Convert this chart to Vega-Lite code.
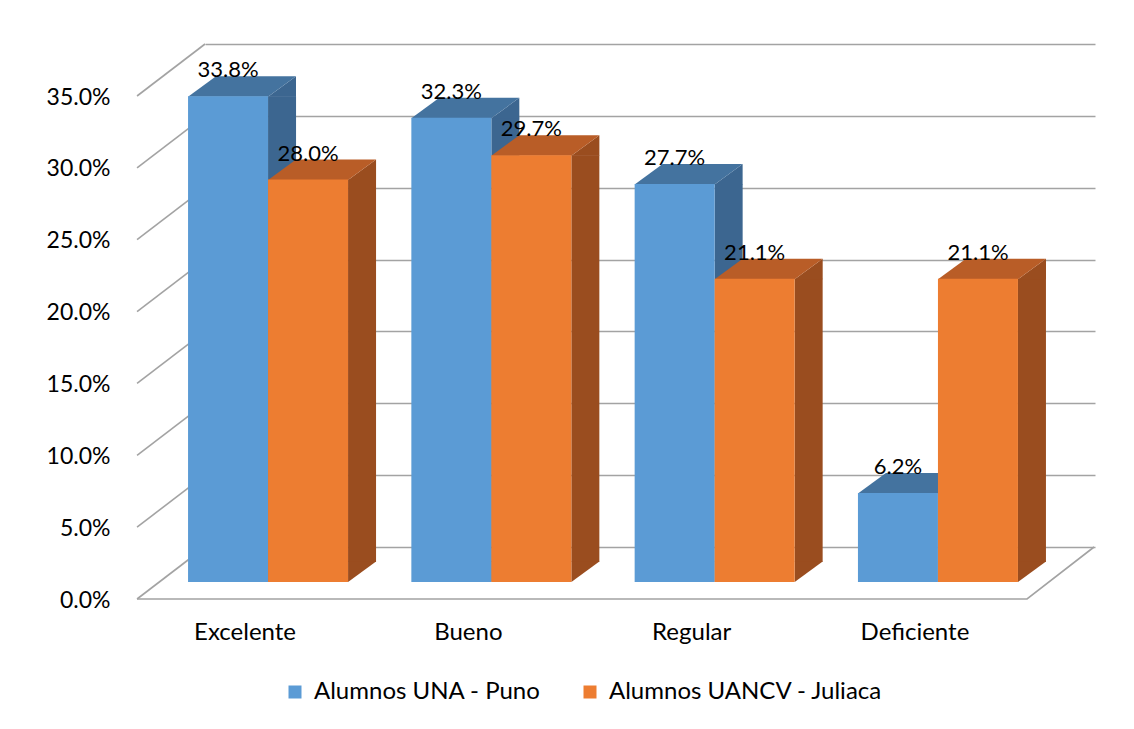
{
  "$schema": "https://vega.github.io/schema/vega-lite/v6.json",
  "autosize": {"type": "none"},
  "width": 890,
  "height": 503,
  "padding": {"left": 205, "top": 44, "right": 39, "bottom": 182},
  "background": "white",
  "datasets": {
    "bars": [
      {"cat": "Excelente", "serie": "Alumnos UNA - Puno", "v": 0.338},
      {"cat": "Excelente", "serie": "Alumnos UANCV - Juliaca", "v": 0.280},
      {"cat": "Bueno", "serie": "Alumnos UNA - Puno", "v": 0.323},
      {"cat": "Bueno", "serie": "Alumnos UANCV - Juliaca", "v": 0.297},
      {"cat": "Regular", "serie": "Alumnos UNA - Puno", "v": 0.277},
      {"cat": "Regular", "serie": "Alumnos UANCV - Juliaca", "v": 0.211},
      {"cat": "Deficiente", "serie": "Alumnos UNA - Puno", "v": 0.062},
      {"cat": "Deficiente", "serie": "Alumnos UANCV - Juliaca", "v": 0.211}
    ],
    "ticks": [{"t": 0}, {"t": 0.05}, {"t": 0.1}, {"t": 0.15}, {"t": 0.2}, {"t": 0.25}, {"t": 0.3}, {"t": 0.35}]
  },
  "config": {
    "view": {"stroke": null},
    "font": "Lato",
    "axisY": {"grid": true, "gridColor": "#a3a3a3", "gridWidth": 1.6, "domain": false, "ticks": false, "labelPadding": 95, "labelOffset": 53, "labelFontSize": 23, "labelColor": "#000000", "labelFont": "Lato"},
    "axisX": {"grid": false, "domain": false, "ticks": false, "labelPadding": 73, "labelOffset": -70, "labelFontSize": 24, "labelColor": "#000000", "labelFont": "Lato", "labelAngle": 0}
  },
  "resolve": {"scale": {"color": "independent"}},
  "layer": [
    {
      "data": {"name": "ticks"},
      "mark": {"type": "point", "shape": "M -110 0 L -178 52", "size": 4, "filled": false, "stroke": "#a3a3a3", "strokeWidth": 1.6, "opacity": 1},
      "encoding": {
        "x": {"datum": "Excelente", "type": "nominal", "scale": {"type": "band", "domain": ["Excelente", "Bueno", "Regular", "Deficiente"], "paddingInner": 0.2832, "paddingOuter": 0.1344}, "axis": {"title": null}},
        "y": {"field": "t", "type": "quantitative", "scale": {"domain": [0, 0.35], "nice": false}, "axis": {"title": null, "format": ".1%", "values": [0, 0.05, 0.1, 0.15, 0.2, 0.25, 0.3, 0.35]}}
      }
    },
    {
      "data": {"name": "ticks"},
      "transform": [{"filter": "datum.t == 0"}],
      "mark": {"type": "point", "shape": "M -178 52 L 712 52 L 779 0", "size": 4, "filled": false, "stroke": "#a3a3a3", "strokeWidth": 1.6, "opacity": 1},
      "encoding": {
        "x": {"datum": "Excelente", "type": "nominal"},
        "y": {"field": "t", "type": "quantitative"}
      }
    },
    {
      "data": {"name": "bars"},
      "transform": [{"filter": "datum.serie == 'Alumnos UNA - Puno'"}],
      "mark": {"type": "bar", "width": 28, "xOffset": -33, "yOffset": 35, "y2Offset": 15, "color": "#3c6690"},
      "encoding": {
        "x": {"field": "cat", "type": "nominal"},
        "y": {"field": "v", "type": "quantitative"},
        "y2": {"datum": 0}
      }
    },
    {
      "data": {"name": "bars"},
      "transform": [{"filter": "datum.serie == 'Alumnos UANCV - Juliaca'"}],
      "mark": {"type": "bar", "width": 28, "xOffset": 47, "yOffset": 35, "y2Offset": 15, "color": "#9a4d1f"},
      "encoding": {
        "x": {"field": "cat", "type": "nominal"},
        "y": {"field": "v", "type": "quantitative"},
        "y2": {"datum": 0}
      }
    },
    {
      "data": {"name": "bars"},
      "mark": {"type": "point", "shape": "M -7 35.5 L 21 15 L 21 35.5 Z", "size": 4, "filled": true, "opacity": 1},
      "encoding": {
        "x": {"field": "cat", "type": "nominal"},
        "xOffset": {"field": "serie", "type": "nominal", "sort": ["Alumnos UNA - Puno", "Alumnos UANCV - Juliaca"], "scale": {"type": "band", "paddingInner": 0, "paddingOuter": 0}},
        "y": {"field": "v", "type": "quantitative"},
        "color": {"field": "serie", "type": "nominal", "scale": {"domain": ["Alumnos UNA - Puno", "Alumnos UANCV - Juliaca"], "range": ["#3c6690", "#9a4d1f"]}, "legend": null}
      }
    },
    {
      "data": {"name": "bars"},
      "mark": {"type": "point", "shape": "M -7 35 L -7 14.5 L 21 14.5 Z", "size": 4, "filled": true, "opacity": 1},
      "encoding": {
        "x": {"field": "cat", "type": "nominal"},
        "xOffset": {"field": "serie", "type": "nominal", "sort": ["Alumnos UNA - Puno", "Alumnos UANCV - Juliaca"]},
        "y": {"datum": 0, "type": "quantitative"},
        "color": {"field": "serie", "type": "nominal", "scale": {"domain": ["Alumnos UNA - Puno", "Alumnos UANCV - Juliaca"], "range": ["#3c6690", "#9a4d1f"]}, "legend": null}
      }
    },
    {
      "data": {"name": "bars"},
      "mark": {"type": "point", "shape": "M -87 35.5 L -7 35.5 L 21 15 L -59 15 Z", "size": 4, "filled": true, "opacity": 1},
      "encoding": {
        "x": {"field": "cat", "type": "nominal"},
        "xOffset": {"field": "serie", "type": "nominal", "sort": ["Alumnos UNA - Puno", "Alumnos UANCV - Juliaca"]},
        "y": {"field": "v", "type": "quantitative"},
        "color": {"field": "serie", "type": "nominal", "scale": {"domain": ["Alumnos UNA - Puno", "Alumnos UANCV - Juliaca"], "range": ["#44739f", "#b95d27"]}, "legend": null}
      }
    },
    {
      "data": {"name": "bars"},
      "transform": [{"filter": "datum.serie == 'Alumnos UNA - Puno'"}],
      "mark": {"type": "bar", "width": 80, "xOffset": -87, "yOffset": 35, "y2Offset": 35},
      "encoding": {
        "x": {"field": "cat", "type": "nominal"},
        "y": {"field": "v", "type": "quantitative"},
        "y2": {"datum": 0},
        "color": {"field": "serie", "type": "nominal", "scale": {"domain": ["Alumnos UNA - Puno", "Alumnos UANCV - Juliaca"], "range": ["#5b9bd5", "#ed7d31"]},
          "legend": {"title": null, "orient": "none", "direction": "horizontal", "legendX": 78, "legendY": 636, "symbolType": "square", "symbolSize": 169, "symbolStrokeWidth": 0, "labelFontSize": 24, "labelFont": "Lato", "labelColor": "#000000", "labelOffset": 7, "columnPadding": 37, "labelLimit": 400}}
      }
    },
    {
      "data": {"name": "bars"},
      "transform": [{"filter": "datum.serie == 'Alumnos UANCV - Juliaca'"}],
      "mark": {"type": "bar", "width": 80, "xOffset": -7, "yOffset": 35, "y2Offset": 35, "color": "#ed7d31"},
      "encoding": {
        "x": {"field": "cat", "type": "nominal"},
        "y": {"field": "v", "type": "quantitative"},
        "y2": {"datum": 0}
      }
    },
    {
      "data": {"name": "bars"},
      "mark": {"type": "text", "dx": -47, "dy": 16, "baseline": "alphabetic", "align": "center", "fontSize": 22, "font": "Lato", "color": "#000000"},
      "encoding": {
        "x": {"field": "cat", "type": "nominal"},
        "xOffset": {"field": "serie", "type": "nominal", "sort": ["Alumnos UNA - Puno", "Alumnos UANCV - Juliaca"]},
        "y": {"field": "v", "type": "quantitative"},
        "text": {"field": "v", "type": "quantitative", "format": ".1%"}
      }
    }
  ]
}
